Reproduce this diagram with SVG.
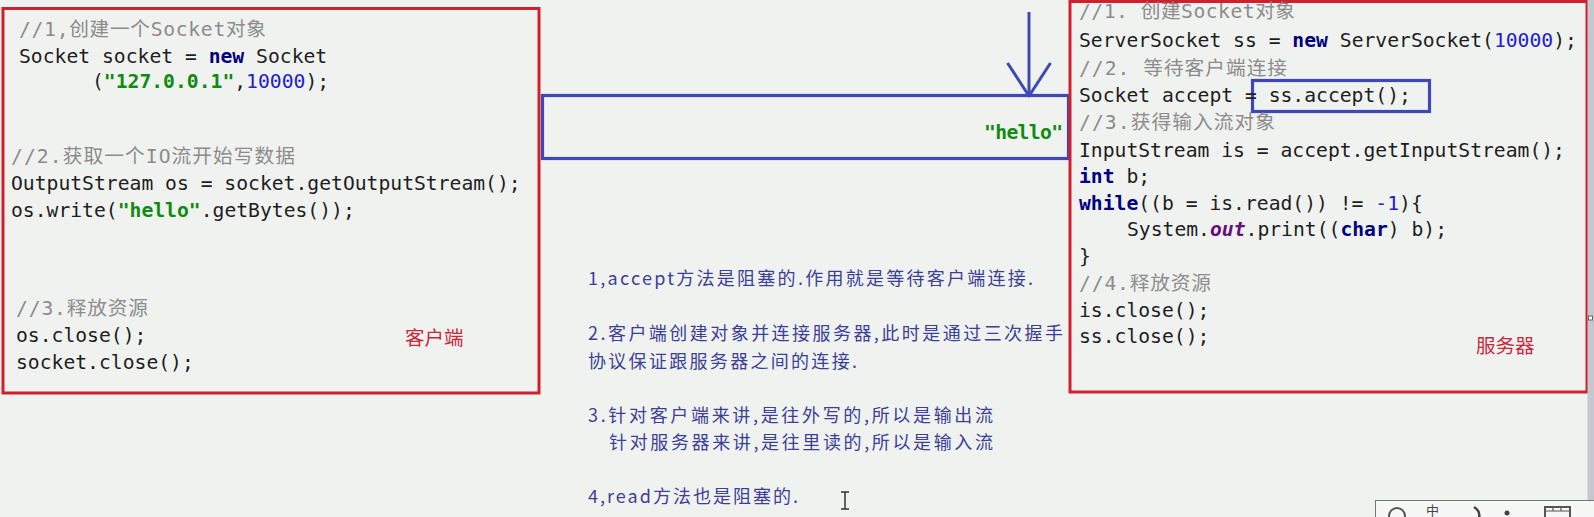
<svg xmlns="http://www.w3.org/2000/svg" width="1594" height="517" viewBox="0 0 1594 517">
<defs>
<style>
.code{font-family:"DejaVu Sans Mono","Noto Sans CJK SC",monospace;font-size:19.7px;fill:#1e1e1e}
.cm{fill:#8c8c8c}
.kw{fill:#000080;font-weight:bold}
.str{fill:#118a11;font-weight:bold}
.num{fill:#2020d0}
.fld{fill:#660e7a;font-weight:bold;font-style:italic}
.lbl{font-family:"Noto Sans CJK SC",sans-serif;font-size:19.5px;fill:#c8283a}
.note{font-family:"Noto Sans CJK SC",sans-serif;font-size:18px;fill:#3b3f98}
.redbox{fill:none;stroke:#d0202e;stroke-width:3}
.bluebox{fill:none;stroke:#3f48b5;stroke-width:3.2}
</style>
<marker id="vhead" markerUnits="userSpaceOnUse" markerWidth="40" markerHeight="48" refX="34" refY="22.5" orient="auto" overflow="visible">
<path d="M1,1 L34,22.5 L1,44" fill="none" stroke="#3f48b5" stroke-width="3" stroke-linejoin="round"/>
</marker>
</defs>
<rect x="0" y="0" width="1594" height="517" fill="#f0f2f0"/>

<g id="channel">
<rect class="bluebox" x="542.5" y="95.5" width="526" height="63"/>
<text class="code str" x="984" y="139" font-size="19px" textLength="79">"hello"</text>
</g>

<g id="client">
<rect class="redbox" x="3" y="8.5" width="536" height="384.5"/>
<text class="code cm" x="19" y="36" textLength="247">//1,创建一个Socket对象</text>
<text class="code" x="19" y="63">Socket socket = <tspan class="kw">new</tspan> Socket</text>
<text class="code" x="92" y="88">(<tspan class="str">"127.0.0.1"</tspan>,<tspan class="num">10000</tspan>);</text>
<text class="code cm" x="11" y="163" textLength="284">//2.获取一个IO流开始写数据</text>
<text class="code" x="11" y="190">OutputStream os = socket.getOutputStream();</text>
<text class="code" x="11" y="217">os.write(<tspan class="str">"hello"</tspan>.getBytes());</text>
<text class="code cm" x="16" y="315" textLength="132">//3.释放资源</text>
<text class="code" x="16" y="342">os.close();</text>
<text class="code" x="16" y="369">socket.close();</text>
<text class="lbl" x="405" y="345">客户端</text>
</g>

<g id="server">
<rect class="redbox" x="1070" y="1.5" width="517" height="390.5"/>
<rect class="bluebox" x="1252.5" y="80.5" width="177" height="31"/>
<text class="code cm" x="1079" y="18" textLength="216">//1. 创建Socket对象</text>
<text class="code" x="1079" y="47">ServerSocket ss = <tspan class="kw">new</tspan> ServerSocket(<tspan class="num">10000</tspan>);</text>
<text class="code cm" x="1079" y="75" textLength="208">//2. 等待客户端连接</text>
<text class="code" x="1079" y="102">Socket accept = ss.accept();</text>
<text class="code cm" x="1079" y="129" textLength="196">//3.获得输入流对象</text>
<text class="code" x="1079" y="157">InputStream is = accept.getInputStream();</text>
<text class="code" x="1079" y="183"><tspan class="kw">int</tspan> b;</text>
<text class="code" x="1079" y="210"><tspan class="kw">while</tspan>((b = is.read()) != <tspan class="num">-1</tspan>){</text>
<text class="code" x="1127" y="236">System.<tspan class="fld">out</tspan>.print((<tspan class="kw">char</tspan>) b);</text>
<text class="code" x="1079" y="263">}</text>
<text class="code cm" x="1079" y="290" textLength="132">//4.释放资源</text>
<text class="code" x="1079" y="317">is.close();</text>
<text class="code" x="1079" y="343">ss.close();</text>
<text class="lbl" x="1476" y="353">服务器</text>
</g>

<g id="connectors">
<line x1="1029" y1="12" x2="1029" y2="96" stroke="#3f48b5" stroke-width="3" marker-end="url(#vhead)"/>
</g>

<g id="notes">
<text class="note" x="588" y="285" textLength="445">1,accept方法是阻塞的.作用就是等待客户端连接.</text>
<text class="note" x="588" y="340" textLength="475">2.客户端创建对象并连接服务器,此时是通过三次握手</text>
<text class="note" x="588" y="368" textLength="269">协议保证跟服务器之间的连接.</text>
<text class="note" x="588" y="422" textLength="405">3.针对客户端来讲,是往外写的,所以是输出流</text>
<text class="note" x="609" y="449" textLength="384">针对服务器来讲,是往里读的,所以是输入流</text>
<text class="note" x="588" y="503" textLength="210">4,read方法也是阻塞的.</text>
</g>

<g id="cursor">
<path d="M841,492 H849 M845,492 V509 M841,509 H849" fill="none" stroke="#333" stroke-width="1.5"/>
</g>

<g id="scrollbar">
<rect x="1587.5" y="0" width="6.5" height="500" fill="#c3c8d0"/>
<rect x="1588.5" y="316" width="4" height="4" fill="#f4f4f4" stroke="#666" stroke-width="1"/>
</g>

<g id="ime-toolbar">
<rect x="1375.5" y="500.5" width="220" height="20" fill="#f7f7f7" stroke="#777" stroke-width="1"/>
<circle cx="1397" cy="516" r="8" fill="none" stroke="#555" stroke-width="2"/>
<text x="1426" y="515" font-family="Noto Sans CJK SC, sans-serif" font-size="13px" fill="#444">中</text>
<path d="M1474,507 Q1482,512 1478,520" fill="none" stroke="#444" stroke-width="2.5"/>
<circle cx="1507" cy="513" r="2.5" fill="#444"/>
<rect x="1545" y="507" width="25" height="12" fill="none" stroke="#555" stroke-width="2"/>
<path d="M1545,511 H1570 M1553,507 V511 M1561,507 V511" stroke="#555" stroke-width="1.2"/>
</g>
</svg>
